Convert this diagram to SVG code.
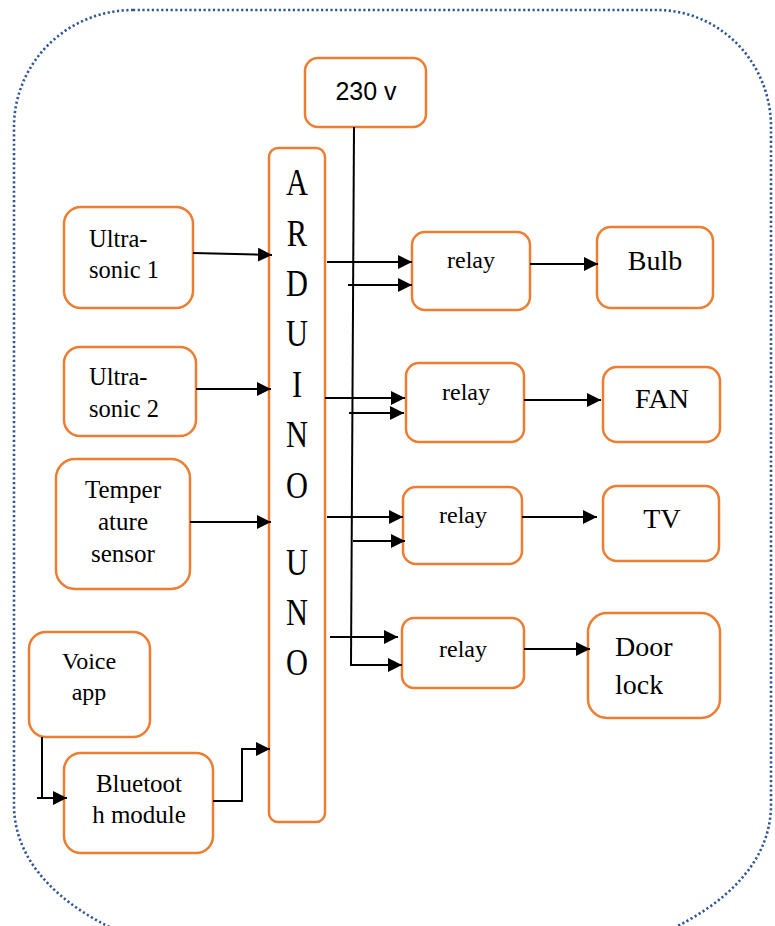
<svg xmlns="http://www.w3.org/2000/svg" width="775" height="926" viewBox="0 0 775 926">
<defs>
<marker id="ah" markerUnits="userSpaceOnUse" markerWidth="16" markerHeight="16" refX="14" refY="7" orient="auto">
<path d="M0,0 L14,7 L0,14 Z" fill="#000"/>
</marker>
<style>
.box{fill:#fff;stroke:#ED7D31;stroke-width:2.5}
.t{font-family:"Liberation Serif","Times New Roman",serif;fill:#000}
.s{font-family:"Liberation Sans",Arial,sans-serif;fill:#000}
.c{fill:none;stroke:#000;stroke-width:2}
.a{fill:none;stroke:#000;stroke-width:2;marker-end:url(#ah)}
</style>
</defs>
<rect width="775" height="926" fill="#fff"/>
<path d="M133,10 L657,10 A114,117 0 0 1 771,127 L771,805 C771,862 725,905 665,932 L120,932 C60,905 14,862 14,805 L14,127 A119,117 0 0 1 133,10 Z" fill="none" stroke="#2F5597" stroke-width="2.6" stroke-dasharray="2.2 2.5"/>

<g id="v230"><rect class="box" x="305" y="58" width="121" height="69" rx="13"/><text class="s" x="366" y="100" font-size="25" text-anchor="middle">230 v</text></g>

<g id="arduino"><rect class="box" x="269" y="148" width="56" height="674" rx="9"/>
<g transform="translate(297,0) scale(0.8,1)" class="t" font-size="38" text-anchor="middle">
<text x="0" y="195">A</text><text x="0" y="246">R</text><text x="0" y="296">D</text><text x="0" y="346">U</text><text x="0" y="397">I</text><text x="0" y="447">N</text><text x="0" y="498">O</text><text x="0" y="575">U</text><text x="0" y="625">N</text><text x="0" y="675">O</text>
</g></g>

<g id="ultra1"><rect class="box" x="64" y="207" width="129" height="101" rx="17"/><text class="t" font-size="24.5" x="89" y="247">Ultra-</text><text class="t" font-size="24.5" x="89" y="278">sonic 1</text></g>
<g id="ultra2"><rect class="box" x="64" y="347" width="132" height="89" rx="16"/><text class="t" font-size="24.5" x="89" y="385">Ultra-</text><text class="t" font-size="24.5" x="89" y="417">sonic 2</text></g>
<g id="temp"><rect class="box" x="56" y="459" width="134" height="130" rx="19"/><g class="t" font-size="25" text-anchor="middle"><text x="123" y="498">Temper</text><text x="123" y="530">ature</text><text x="123" y="562">sensor</text></g></g>
<g id="voice"><rect class="box" x="29" y="632" width="121" height="105" rx="17"/><g class="t" font-size="24" text-anchor="middle"><text x="89" y="669">Voice</text><text x="89" y="700">app</text></g></g>
<g id="bt"><rect class="box" x="64" y="753" width="149" height="100" rx="17"/><g class="t" font-size="25" text-anchor="middle"><text x="139" y="792">Bluetoot</text><text x="139" y="823">h module</text></g></g>

<g id="relay1"><rect class="box" x="412" y="232" width="118" height="78" rx="13"/><text class="t" font-size="24" x="471" y="268" text-anchor="middle">relay</text></g>
<g id="relay2"><rect class="box" x="406" y="363" width="118" height="79" rx="13"/><text class="t" font-size="24" x="466" y="400" text-anchor="middle">relay</text></g>
<g id="relay3"><rect class="box" x="403" y="487" width="119" height="77" rx="13"/><text class="t" font-size="24" x="463" y="523" text-anchor="middle">relay</text></g>
<g id="relay4"><rect class="box" x="402" y="618" width="122" height="70" rx="12"/><text class="t" font-size="24" x="463" y="657" text-anchor="middle">relay</text></g>

<g id="bulb"><rect class="box" x="597" y="227" width="116" height="81" rx="14"/><text class="t" font-size="28" x="655" y="270" text-anchor="middle">Bulb</text></g>
<g id="fan"><rect class="box" x="603" y="367" width="117" height="75" rx="14"/><text class="t" font-size="28" x="662" y="408" text-anchor="middle">FAN</text></g>
<g id="tv"><rect class="box" x="603" y="486" width="116" height="75" rx="14"/><text class="t" font-size="28" x="662" y="528" text-anchor="middle">TV</text></g>
<g id="door"><rect class="box" x="588" y="613" width="132" height="105" rx="19"/><text class="t" font-size="28" x="615" y="656">Door</text><text class="t" font-size="28" x="615" y="694">lock</text></g>

<g id="connectors">
<line class="a" x1="193" y1="253" x2="272" y2="255"/>
<line class="a" x1="196" y1="389" x2="271" y2="389"/>
<line class="a" x1="190" y1="522" x2="271" y2="522"/>
<polyline class="c" points="42,737 42,798"/>
<line class="a" x1="37" y1="798" x2="67" y2="798"/>
<polyline class="a" points="213,801 242,801 242,749 270,749"/>
<line class="c" x1="354" y1="127" x2="351" y2="665"/>
<line class="a" x1="327" y1="262" x2="412" y2="262"/>
<line class="a" x1="348" y1="285" x2="412" y2="285"/>
<line class="a" x1="530" y1="264" x2="598" y2="264"/>
<line class="a" x1="325" y1="398" x2="405" y2="398"/>
<line class="a" x1="349" y1="413" x2="404" y2="413"/>
<line class="a" x1="524" y1="400" x2="601" y2="400"/>
<line class="a" x1="327" y1="517" x2="403" y2="517"/>
<line class="a" x1="353" y1="541" x2="405" y2="541"/>
<line class="a" x1="522" y1="517" x2="597" y2="517"/>
<line class="a" x1="330" y1="637" x2="398" y2="637"/>
<line class="a" x1="350" y1="665" x2="402" y2="665"/>
<line class="a" x1="524" y1="649" x2="590" y2="649"/>
</g>
</svg>
